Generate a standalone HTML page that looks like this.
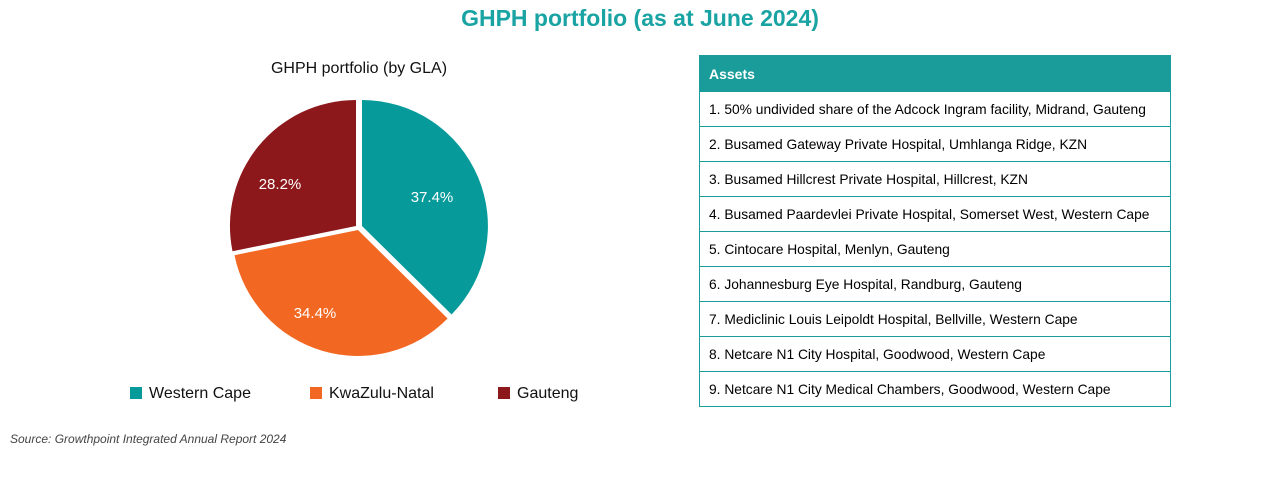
<!DOCTYPE html>
<html><head><style>
body{margin:0;width:1280px;height:485px;background:#fff;position:relative;font-family:"Liberation Sans",sans-serif;overflow:hidden}
.t{position:absolute;left:0;width:1280px;top:5px;text-align:center;color:#1aa3a3;font-weight:bold;font-size:23px}
.sub{position:absolute;left:200px;width:318px;top:60px;text-align:center;font-size:16px;color:#111}
table{position:absolute;left:699px;top:55px;width:472px;border-collapse:collapse}
td{border:1px solid #199c9a;height:34px;box-sizing:border-box;padding:0 0 0 9px;font-size:13.8px;color:#000}
tr{height:35px}
th{background:#199c9a;color:#fff;text-align:left;font-size:14px;height:35px;padding:0 0 0 9px;border:1px solid #199c9a}
.lg{position:absolute;top:385px;font-size:16px;color:#111}
.lg span{display:inline-block;width:12px;height:12px;margin-right:7px;vertical-align:-1px}
.src{position:absolute;left:10px;top:432px;font-size:12px;font-style:italic;color:#444}
</style></head><body>
<div class="t">GHPH portfolio (as at June 2024)</div>
<div class="sub">GHPH portfolio (by GLA)</div>
<svg width="1280" height="485" style="position:absolute;left:0;top:0">
<path d="M362,226 L362,100 A126,126 0 0 1 451.6,314.5 Z" fill="#079a9a"/>
<path d="M358,230 L447.6,318.5 A126,126 0 0 1 234.5,255.2 Z" fill="#f26722"/>
<path d="M356,226 L232.5,251.2 A126,126 0 0 1 356,100 Z" fill="#8c181b"/>
<g font-family="Liberation Sans" font-size="15" fill="#fff" text-anchor="middle">
<text x="432" y="202">37.4%</text>
<text x="315" y="318">34.4%</text>
<text x="280" y="189">28.2%</text>
</g>
</svg>
<div class="lg" style="left:130px"><span style="background:#079a9a"></span>Western Cape</div>
<div class="lg" style="left:310px"><span style="background:#f26722"></span>KwaZulu-Natal</div>
<div class="lg" style="left:498px"><span style="background:#8c181b"></span>Gauteng</div>
<table>
<tr><th>Assets</th></tr>
<tr><td>1. 50% undivided share of the Adcock Ingram facility, Midrand, Gauteng</td></tr>
<tr><td>2. Busamed Gateway Private Hospital, Umhlanga Ridge, KZN</td></tr>
<tr><td>3. Busamed Hillcrest Private Hospital, Hillcrest, KZN</td></tr>
<tr><td>4. Busamed Paardevlei Private Hospital, Somerset West, Western Cape</td></tr>
<tr><td>5. Cintocare Hospital, Menlyn, Gauteng</td></tr>
<tr><td>6. Johannesburg Eye Hospital, Randburg, Gauteng</td></tr>
<tr><td>7. Mediclinic Louis Leipoldt Hospital, Bellville, Western Cape</td></tr>
<tr><td>8. Netcare N1 City Hospital, Goodwood, Western Cape</td></tr>
<tr><td>9. Netcare N1 City Medical Chambers, Goodwood, Western Cape</td></tr>
</table>
<div class="src">Source: Growthpoint Integrated Annual Report 2024</div>
</body></html>
